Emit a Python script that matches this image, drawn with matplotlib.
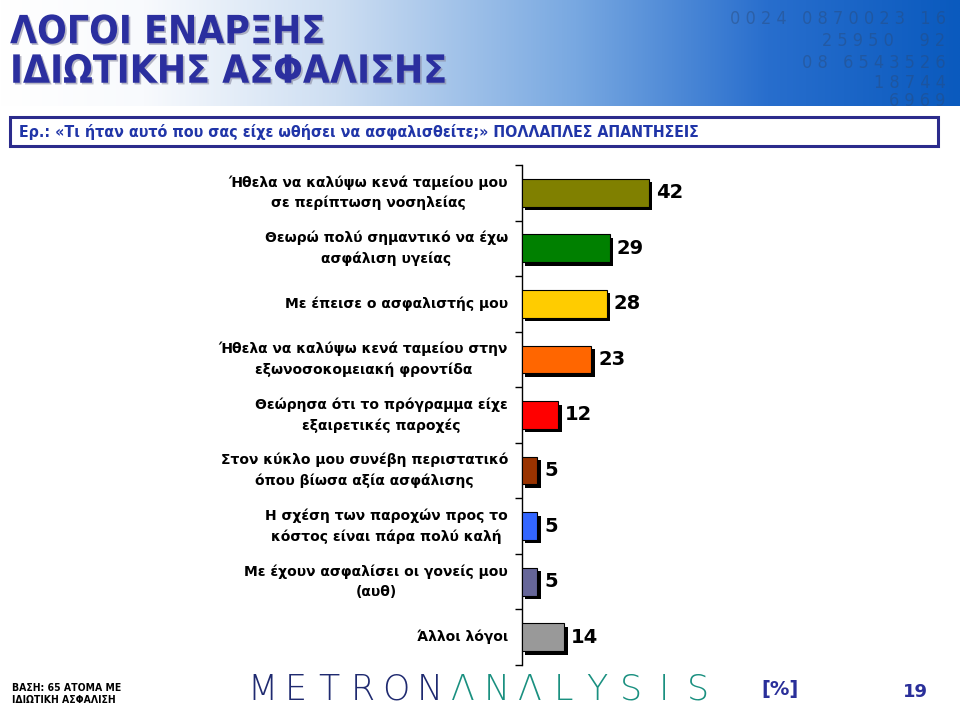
import matplotlib
matplotlib.use("Agg")
import matplotlib.pyplot as plt
import matplotlib.patheffects as pe
from matplotlib.patches import Rectangle
import numpy as np

# ---------------- data ----------------
categories = [
    "Ήθελα να καλύψω κενά ταμείου μου\nσε περίπτωση νοσηλείας",
    "Θεωρώ πολύ σημαντικό να έχω\nασφάλιση υγείας",
    "Με έπεισε ο ασφαλιστής μου",
    "Ήθελα να καλύψω κενά ταμείου στην\nεξωνοσοκομειακή φροντίδα",
    "Θεώρησα ότι το πρόγραμμα είχε\nεξαιρετικές παροχές",
    "Στον κύκλο μου συνέβη περιστατικό\nόπου βίωσα αξία ασφάλισης",
    "Η σχέση των παροχών προς το\nκόστος είναι πάρα πολύ καλή",
    "Με έχουν ασφαλίσει οι γονείς μου\n(αυθ)",
    "Άλλοι λόγοι",
]
values = [42, 29, 28, 23, 12, 5, 5, 5, 14]
bar_colors = ["#808000", "#008000", "#FFCC00", "#FF6600", "#FF0000",
              "#993300", "#3366FF", "#666699", "#999999"]

title = "ΛΟΓΟΙ ΕΝΑΡΞΗΣ\nΙΔΙΩΤΙΚΗΣ ΑΣΦΑΛΙΣΗΣ"
question = "Ερ.: «Τι ήταν αυτό που σας είχε ωθήσει να ασφαλισθείτε;» ΠΟΛΛΑΠΛΕΣ ΑΠΑΝΤΗΣΕΙΣ"
base_note = "ΒΑΣΗ: 65 ΑΤΟΜΑ ΜΕ\nΙΔΙΩΤΙΚΗ ΑΣΦΑΛΙΣΗ"
unit_label = "[%]"
page_no = "19"
logo_a = "METRON"
logo_b = "ΛNΛLYSIS"
deco_rows = ["0 0 2 4   0 8 7 0 0 2 3   1 6",
             "2 5 9 5 0     9 2",
             "0 8   6 5 4 3 5 2 6",
             "1 8 7 4 4",
             "6 9 6 9"]

W, H = 960, 719
fig = plt.figure(figsize=(W / 100, H / 100), dpi=100)
fig.patch.set_facecolor("white")

def fx(px):
    return px / W

def fy(py):
    return 1 - py / H

# ---------------- header gradient ----------------
hdr = fig.add_axes([0, fy(106), 1, 106 / H])
hdr.set_axis_off()
xs = np.linspace(0, 1, 400)
stops_x = [0.0, 0.15, 0.35, 0.6, 0.8, 1.0]
stops_c = np.array([[255, 255, 255], [248, 250, 253], [205, 222, 242],
                    [120, 168, 225], [40, 110, 205], [10, 90, 190]]) / 255
grad = np.stack([np.interp(xs, stops_x, stops_c[:, k]) for k in range(3)], axis=-1)
img = np.tile(grad[None, :, :], (60, 1, 1))
hdr.imshow(img, aspect="auto", extent=[0, 1, 0, 1])
hdr.set_xlim(0, 1)
hdr.set_ylim(0, 1)
deco_y = [0.82, 0.61, 0.41, 0.22, 0.05]
for txt, dy in zip(deco_rows, deco_y):
    hdr.text(0.985, dy, txt, fontsize=13, color="#2a4a78", alpha=0.45,
             ha="right", va="center", family="DejaVu Sans",
             fontstretch="condensed", fontweight="light")

fig.text(fx(10), fy(52), title, fontsize=28, fontweight="bold",
         family="DejaVu Sans", fontstretch="condensed", color="#2b2f9f",
         ha="left", va="center", linespacing=1.05,
         path_effects=[pe.SimplePatchShadow(offset=(1.2, -1.2),
                                            shadow_rgbFace="#8a8aa0", alpha=0.6),
                       pe.Normal()])

# ---------------- question box ----------------
box = Rectangle((fx(10), fy(146)), fx(928), 29 / H, transform=fig.transFigure,
                facecolor="white", edgecolor="#2b2b8c", linewidth=2.2)
fig.add_artist(box)
fig.text(fx(19), fy(131.5), question, fontsize=11.4, fontweight="bold",
         family="DejaVu Sans", fontstretch="condensed", color="#2035a8",
         ha="left", va="center")

# ---------------- chart ----------------
ax_left, ax_top, ax_bot, ax_right = 522, 165, 665, 900
ax = fig.add_axes([fx(ax_left), fy(ax_bot), fx(ax_right - ax_left),
                   (ax_bot - ax_top) / H])
ax.patch.set_alpha(0)
n = len(values)
ypos = np.arange(n)
bars = ax.barh(ypos, values, height=0.5, color=bar_colors,
               edgecolor="black", linewidth=0.8, zorder=3)
for b in bars:
    b.set_path_effects([pe.SimplePatchShadow(offset=(2.5, -2.5),
                                             shadow_rgbFace="black", alpha=1.0),
                        pe.Normal()])
ax.set_xlim(0, (ax_right - ax_left) / 3.02)
ax.set_ylim(n - 0.5, -0.5)
for s in ["top", "right", "bottom"]:
    ax.spines[s].set_visible(False)
ax.spines["left"].set_linewidth(1.0)
ax.set_xticks([])
ax.set_yticks(np.arange(n + 1) - 0.5)
ax.set_yticklabels([])
ax.tick_params(axis="y", direction="out", length=5, width=1)

for yv, v, lab in zip(ypos, values, categories):
    ax.annotate(str(v), xy=(v, yv), xytext=(7, 0), textcoords="offset pixels",
                ha="left", va="center", fontsize=14, fontweight="bold",
                family="DejaVu Sans", color="black")
    ax.annotate(lab, xy=(0, yv), xytext=(-14, 0), textcoords="offset pixels",
                ha="right", va="center", multialignment="center",
                fontsize=10, fontweight="bold", family="DejaVu Sans",
                color="black", linespacing=1.55)

# ---------------- footer ----------------
fig.text(fx(12), fy(694), base_note, fontsize=7.5, fontweight="bold",
         family="DejaVu Sans", fontstretch="condensed", color="black",
         ha="left", va="center", linespacing=1.2)

step = 33.5
for i, ch in enumerate(logo_a + logo_b):
    col = "#1f2a70" if i < len(logo_a) else "#1a9080"
    fig.text(fx(262 + i * step), fy(690), ch, fontsize=25, fontweight="light",
             family="DejaVu Sans", color=col, ha="center", va="center")

fig.text(fx(780), fy(690), unit_label, fontsize=14, fontweight="bold",
         family="DejaVu Sans", color="#2a2f9a", ha="center", va="center")
fig.text(fx(915), fy(692), page_no, fontsize=13, fontweight="bold",
         family="DejaVu Sans", color="#2a2f9a", ha="center", va="center")

fig.savefig("out.png", dpi=100, facecolor="white")
